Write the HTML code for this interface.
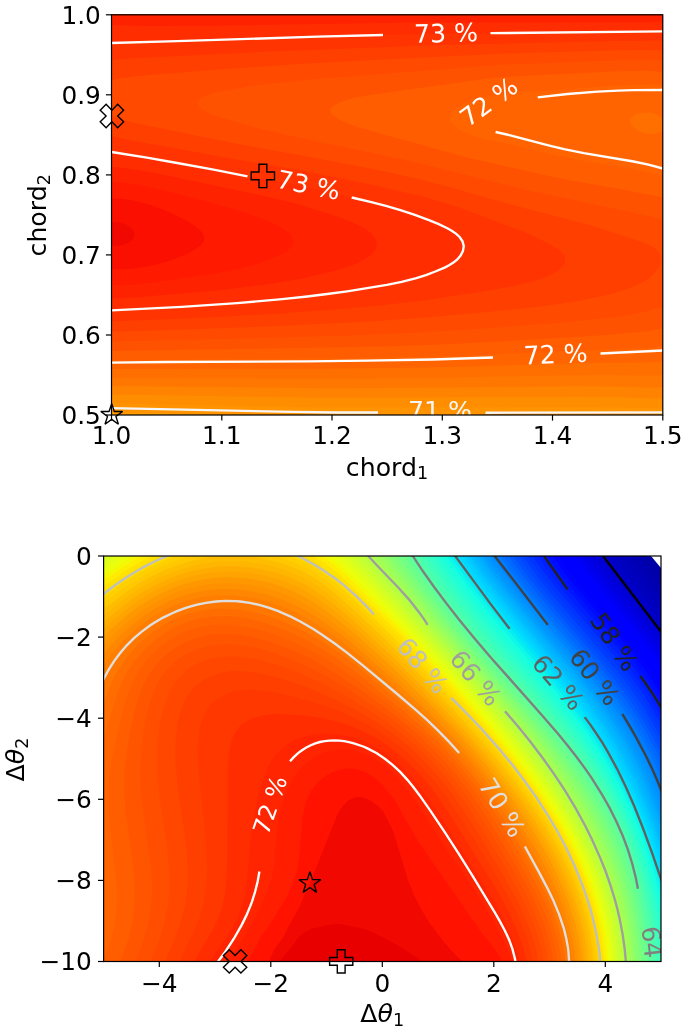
<!DOCTYPE html>
<html><head><meta charset="utf-8"><title>contours</title>
<style>html,body{margin:0;padding:0;background:#fff}svg{display:block}</style>
</head><body>
<svg width="685" height="1031" viewBox="0 0 685 1031" font-family="'DejaVu Sans', 'Liberation Sans', sans-serif" fill="#000">
<rect width="685" height="1031" fill="#fff"/>
<clipPath id="clip1"><rect x="111.5" y="14.8" width="551.3" height="400.2"/></clipPath>
<g clip-path="url(#clip1)">
<rect x="109.5" y="12.8" width="555.3" height="404.2" fill="#ff9f00"/>
<path fill="#ff9400" d="M109.5,12.8 664.8,12.8 664.8,415.7 620.4,417 332.8,417 272.8,416.1 156.2,413.3 109.5,412.9Z"/>
<path fill="#ff8d00" d="M109.5,12.8 664.8,12.8 664.8,407.9 599.5,407.2 324.2,407.4 109.5,403.4Z"/>
<path fill="#ff8200" d="M109.5,12.8 664.8,12.8 664.8,398.3 655.5,398.6 618.1,397.2 580.8,396.9 324.2,397.8 109.5,394.6Z"/>
<path fill="#ff7700" d="M109.5,12.8 664.8,12.8 664.8,387.2 650.8,387.7 613.5,386.5 576.1,386.2 454.8,387.6 333.5,388.3 109.5,386.1Z"/>
<path fill="#ff6f00" d="M109.5,12.8 664.8,12.8 664.8,374.9 650.8,375.7 608.8,375.1 571.5,375.2 454.8,377.4 352.2,378.5 109.5,377.6Z"/>
<path fill="#ff6400" d="M109.5,12.8 664.8,12.8 664.8,361.3 650.8,362.3 571.5,363.5 464.1,366.7 394.1,368 319.5,368.7 109.5,369ZM636.8,114 634.6,114.9 630.1,119 630,123 632.9,127.1 639.6,131.2 646.1,133.2 650.8,133.9 655.5,133.8 660.1,132.3 661.8,131.2 664.4,127.1 664.3,123 662.2,119 660.1,116.8 655.5,113.9 650.8,112.7 646.1,112.4 641.5,112.9Z"/>
<path fill="#ff5d00" d="M109.5,12.8 664.8,12.8 664.8,85.8 660.1,85 650.8,84.4 618.1,85.2 562.1,89.7 515.5,92.2 501.5,93.8 479.6,98.5 467,102.6 459.5,106.2 452.7,110.8 449.8,114.9 449.5,119 451.5,123 455.7,127.1 462,131.2 471.4,135.3 482.8,138.7 510.8,144.5 557.5,155.7 578.6,159.8 632.1,168.4 655.5,174 664.8,175.5 664.8,345.9 650.8,347.5 608.8,349.6 478.1,355 422.1,356.7 333.5,358.3 109.5,360.2Z"/>
<path fill="#ff5200" d="M109.5,12.8 664.8,12.8 664.8,72 646.1,70.8 618.1,71.3 515.5,76.2 491.7,78.1 373.6,94.5 356.8,97.3 351.2,98.5 339.2,102.6 331.9,106.7 329.8,110.8 332.4,114.9 338.4,119 346.5,123 357.2,127.1 464.1,156.7 548.4,176.1 571.5,180.6 622.8,189.4 664.8,197.9 664.8,327.9 646.1,331.4 603.2,335.3 506.1,341.2 440.8,344.4 389.5,346.2 330.5,347.6 109.5,351.1Z"/>
<path fill="#ff4a00" d="M109.5,12.8 664.8,12.8 664.8,60.6 650.8,59.9 627.5,60 506.1,64.5 314.8,79 258.8,85 216.8,92.3 208.1,94.5 202.8,97.2 200.6,98.5 198,102.6 199.1,106.7 202.8,110.1 212.1,114.9 253.1,127.1 307.7,139.4 408.1,160.5 534.1,191.7 635.3,212.9 653.1,216.9 664.8,220.2 664.8,305.3 655.5,308.8 641.5,312.5 627.5,315.2 608.8,317.8 556.3,323.1 478.1,328.9 412.8,332.8 342.8,335.7 254.2,338.3 109.5,341.5Z"/>
<path fill="#ff3f00" d="M109.5,12.8 664.8,12.8 664.8,50.3 650.8,49.9 627.5,50.1 504.6,53.6 314.8,63 221.5,69.2 137.5,76 120.6,78.1 114.2,79.8 109.5,81.5ZM109.5,114.9 119.3,119 135,123 235.2,143.5 300.8,155.3 380.2,170.6 412.8,177.7 445.5,185.9 520.1,207.1 589.5,225.1 640.3,241.4 650.2,245.5 656.5,249.6 659.5,253.7 660.6,257.8 660.4,261.9 659.2,265.9 657,270 653.6,274.1 649,278.2 641.5,283 634.4,286.3 627.5,289 609.2,294.5 591,298.6 567.8,302.7 538.3,306.8 500.7,310.8 431.5,317.1 366.2,321.7 254.2,327.1 123.5,331.5 109.5,331.6Z"/>
<path fill="#ff3400" d="M109.5,12.8 664.8,12.8 664.8,40.6 613.5,41 431.5,45.2 258.8,52 132.8,58.3 118.8,59.2 109.5,60.4ZM109.5,139.4 109.5,135.7 126.4,139.4 230.8,158.4 296.2,169.6 380.2,186.4 422.5,196.5 445.5,203.2 462.5,208.8 524.8,232.2 536.7,237.4 552.1,245.5 558.3,249.6 562.8,253.7 565.1,257.8 565.2,261.9 563.1,265.9 558.7,270 552,274.1 542.6,278.2 529.9,282.3 512.4,286.3 489.1,290.4 412.8,301.9 352.2,308 277.5,313.7 207.5,317.4 123.5,321.1 109.5,321.3Z"/>
<path fill="#ff2d00" d="M109.5,12.8 664.8,12.8 664.8,31.3 431.5,33.7 319.5,36.6 109.5,43.1ZM109.5,155.7 109.5,151.7 156.2,159.1 235.5,174.1 296.2,185.1 365.3,200.6 381.5,204.7 395.9,208.8 420.6,216.9 440.8,225.1 448.8,229.2 455.4,233.3 459.8,237.4 462.4,241.4 463.7,245.5 463.6,249.6 461.9,253.7 458.8,257.8 454.2,261.9 447.7,265.9 439.2,270 428.8,274.1 415.9,278.2 399.7,282.3 378.2,286.3 353,290.4 323.6,294.5 263.5,300.9 193.5,306.1 118.8,310.2 109.5,310.3Z"/>
<path fill="#ff2200" d="M109.5,12.8 664.8,12.8 664.8,22.3 515.5,22.6 431.5,22.3 212.2,25.7 146.8,25.9 109.5,25ZM109.5,167.9 109.5,166.5 118.8,167.5 137.5,170 156.2,173.3 266.7,196.5 300.6,204.7 338.4,216.9 349.5,221 358.6,225.1 365.7,229.2 371,233.3 374.6,237.4 376.5,241.4 376.8,245.5 375.3,249.6 372.1,253.7 367,257.8 359.7,261.9 349.8,265.9 337.1,270 321.7,274.1 303.4,278.2 281,282.3 263.5,284.9 217.7,290.4 146.8,296.6 123.5,298.2 109.5,298.3Z"/>
<path fill="#ff1a00" d="M650.4,12.8 664.8,12.9ZM109.5,184.3 109.5,181.7 114.2,181.9 128.2,183.2 146.8,186.4 172.5,192.4 233.1,208.8 246.3,212.9 267.9,221 276.7,225.1 283.9,229.2 289.1,233.3 292.2,237.4 293.2,241.4 292,245.5 288.6,249.6 286.8,250.9 282.8,253.7 274.4,257.8 263.6,261.9 250.2,265.9 233,270 210.4,274.1 155.5,282.3 128.2,284.9 118.8,285.2 109.5,284.9Z"/>
<path fill="#fa0f00" d="M109.5,200.6 109.5,198.5 114.2,198.4 123.5,199 132.8,200.5 149.3,204.7 161,208.8 170.9,212.9 187.2,221 193.6,225.1 198.9,229.2 202.6,233.3 204.4,237.4 203.7,241.4 200.5,245.5 194.9,249.6 187.2,253.7 177.5,257.8 165.4,261.9 149.7,265.9 132.8,268.8 118.8,269.6 109.5,268.9Z"/>
<path fill="#f10800" d="M109.5,225.1 109.5,222.8 114.2,222 118.8,222.3 123.5,223.6 127,225.1 132.1,229.2 134.2,233.3 133.8,237.4 130.5,241.4 123.5,244.8 118.8,245.7 114.2,245.5 109.5,244.3Z"/>
<path d="M111.5,43 176.9,41.2 317.6,36.7 383,35" fill="none" stroke="#fff" stroke-width="2.35"/>
<path d="M490.5,33.2 664,31.3" fill="none" stroke="#fff" stroke-width="2.35"/>
<path d="M663,90 632.8,90.2 617.8,90.6 597.7,91.6 567.7,94 537.7,97.4" fill="none" stroke="#fff" stroke-width="2.35"/>
<path d="M495.6,132 510.3,135.4 549.4,145.6 564.1,149.1 583.8,153.1 633.6,161.5 648.4,164.6 663,168.5" fill="none" stroke="#fff" stroke-width="2.35"/>
<path d="M111.5,152 146.9,157.7 177.1,163 212.3,169.4 247.5,176.3" fill="none" stroke="#fff" stroke-width="2.35"/>
<path d="M351.7,197.5 371.3,202.1 385.9,205.9 400.4,210.1 414.8,214.8 428.9,220.1 438.2,223.9 447.3,228.3 451.7,230.7 455.9,233.6 459.6,237 462.5,241.3 463.8,246.1 462.9,251 460.6,255.6 457.3,259.4 453.4,262.6 449.1,265.3 444.6,267.6 435.3,271.5 425.9,275.1 416.3,278.1 401.7,281.8 386.9,284.8 367,288.2 347.2,291.3 327.2,294 307.3,296.5 282.2,299.2 237.1,303.1 181.8,306.8 111.5,310.4" fill="none" stroke="#fff" stroke-width="2.35"/>
<path d="M111.5,362.6 166.7,362 307.3,361.3 367.5,360.7 432.8,359.5 493,357.5" fill="none" stroke="#fff" stroke-width="2.35"/>
<path d="M600.5,353.5 663,350.5" fill="none" stroke="#fff" stroke-width="2.35"/>
<path d="M111.5,408.2 292.5,411.9 337.8,412.5 378,412.5" fill="none" stroke="#f6f6f6" stroke-width="2.35"/>
<path d="M485.5,412.7 663,412.4" fill="none" stroke="#f6f6f6" stroke-width="2.35"/>
<text transform="translate(446,33.5) rotate(-1.5)" text-anchor="middle" dominant-baseline="central" fill="#fff" font-size="25.2">73 %</text>
<text transform="translate(489,102) rotate(-36)" text-anchor="middle" dominant-baseline="central" fill="#fff" font-size="25.2">72 %</text>
<text transform="translate(308.5,185.4) rotate(11.5)" text-anchor="middle" dominant-baseline="central" fill="#fff" font-size="25.2">73 %</text>
<text transform="translate(555.5,354.5) rotate(-2.5)" text-anchor="middle" dominant-baseline="central" fill="#fff" font-size="25.2">72 %</text>
<text transform="translate(440,410.6) rotate(0)" text-anchor="middle" dominant-baseline="central" fill="#f6f6f6" font-size="25.2">71 %</text>
</g>
<rect x="111.5" y="14.8" width="551.3" height="400.2" fill="none" stroke="#000" stroke-width="1.2"/>
<path d="M111.5,415 v5.6" stroke="#000" stroke-width="1.2"/>
<text x="111.5" y="444" text-anchor="middle" font-size="24.8">1.0</text>
<path d="M221.8,415 v5.6" stroke="#000" stroke-width="1.2"/>
<text x="221.8" y="444" text-anchor="middle" font-size="24.8">1.1</text>
<path d="M332,415 v5.6" stroke="#000" stroke-width="1.2"/>
<text x="332" y="444" text-anchor="middle" font-size="24.8">1.2</text>
<path d="M442.3,415 v5.6" stroke="#000" stroke-width="1.2"/>
<text x="442.3" y="444" text-anchor="middle" font-size="24.8">1.3</text>
<path d="M552.5,415 v5.6" stroke="#000" stroke-width="1.2"/>
<text x="552.5" y="444" text-anchor="middle" font-size="24.8">1.4</text>
<path d="M662.8,415 v5.6" stroke="#000" stroke-width="1.2"/>
<text x="662.8" y="444" text-anchor="middle" font-size="24.8">1.5</text>
<path d="M111.5,415 h-5.6" stroke="#000" stroke-width="1.2"/>
<text x="100.9" y="423.9" text-anchor="end" font-size="24.8">0.5</text>
<path d="M111.5,335 h-5.6" stroke="#000" stroke-width="1.2"/>
<text x="100.9" y="343.9" text-anchor="end" font-size="24.8">0.6</text>
<path d="M111.5,254.9 h-5.6" stroke="#000" stroke-width="1.2"/>
<text x="100.9" y="263.8" text-anchor="end" font-size="24.8">0.7</text>
<path d="M111.5,174.9 h-5.6" stroke="#000" stroke-width="1.2"/>
<text x="100.9" y="183.8" text-anchor="end" font-size="24.8">0.8</text>
<path d="M111.5,94.8 h-5.6" stroke="#000" stroke-width="1.2"/>
<text x="100.9" y="103.7" text-anchor="end" font-size="24.8">0.9</text>
<path d="M111.5,14.8 h-5.6" stroke="#000" stroke-width="1.2"/>
<text x="100.9" y="23.7" text-anchor="end" font-size="24.8">1.0</text>
<path d="M106.1,104.3 111.9,110.2 117.7,104.3 123.6,110.2 117.7,116 123.6,121.8 117.7,127.7 111.9,121.8 106.1,127.7 100.2,121.8 106.1,116 100.2,110.2Z" fill="none" stroke="#000" stroke-width="1.4" stroke-linejoin="miter"/>
<path d="M259,164.2 266.8,164.2 266.8,172 274.5,172 274.5,179.8 266.8,179.8 266.8,187.6 259,187.6 259,179.8 251.2,179.8 251.2,172 259,172Z" fill="none" stroke="#000" stroke-width="1.4" stroke-linejoin="miter"/>
<path d="M111.7,403.6 109.1,411.5 100.8,411.5 107.5,416.4 105,424.3 111.7,419.4 118.4,424.3 115.9,416.4 122.6,411.5 114.3,411.5Z" fill="none" stroke="#000" stroke-width="1.4" stroke-linejoin="bevel"/>
<text x="387" y="475.6" text-anchor="middle" font-size="25.2">chord<tspan font-size="17.6" dy="3.7">1</tspan></text><text transform="translate(46.4,215.3) rotate(-90)" text-anchor="middle" font-size="25.2">chord<tspan font-size="17.6" dy="3.7">2</tspan></text>
<clipPath id="clip2"><rect x="103.6" y="556" width="557.4" height="405.5"/></clipPath>
<g clip-path="url(#clip2)">
<rect x="101.6" y="554" width="561.4" height="409.5" fill="#00009b"/>
<path fill="#0000a4" d="M101.6,554 659.1,554 663,560.3 663,963.5 101.6,963.5Z"/>
<path fill="#0000a8" d="M101.6,554 649.5,554 655.1,561.5 663,576.8 663,963.5 101.6,963.5Z"/>
<path fill="#0000b2" d="M101.6,554 639,554 645.2,561.5 650.4,569 663,592.3 663,963.5 101.6,963.5Z"/>
<path fill="#0000bb" d="M101.6,554 628.8,554 638,565.3 643.4,572.8 663,604.7 663,963.5 101.6,963.5Z"/>
<path fill="#0000bf" d="M101.6,554 619.4,554 637,576.5 663,615 663,963.5 101.6,963.5Z"/>
<path fill="#0000c8" d="M101.6,554 611,554 630.7,579.4 663,624 663,963.5 101.6,963.5Z"/>
<path fill="#0000d1" d="M101.6,554 603.4,554 663,632.1 663,963.5 101.6,963.5Z"/>
<path fill="#0000da" d="M101.6,554 596.6,554 610.5,572.5 663,639.7 663,963.5 101.6,963.5Z"/>
<path fill="#0000e3" d="M101.6,554 590.3,554 606.5,575.8 650.9,631.2 663,647 663,963.5 101.6,963.5Z"/>
<path fill="#0000ed" d="M101.6,554 584.4,554 600.9,576.5 649.7,636.7 663,654.1 663,963.5 101.6,963.5Z"/>
<path fill="#0000f6" d="M101.6,554 578.6,554 595,576.5 646.8,639.7 663,661.2 663,963.5 101.6,963.5Z"/>
<path fill="#0000ff" d="M101.6,554 573,554 580.8,565.3 590.3,577.9 642.8,641.2 653.9,655.4 663,668.2 663,963.5 101.6,963.5Z"/>
<path fill="#0000ff" d="M101.6,554 567.5,554 578,569 589.6,584.1 643.1,647.9 654.5,662.9 663,675.3 663,963.5 101.6,963.5Z"/>
<path fill="#0000ff" d="M101.6,554 562.1,554 572.6,569 584.2,584.1 628.8,636.7 642.8,653.9 654.9,670.3 663,682.5 663,963.5 101.6,963.5Z"/>
<path fill="#0004ff" d="M101.6,554 556.9,554 567.3,569 578.8,584.1 626.7,640.2 639.1,655.4 653,674.2 663,689.9 663,963.5 101.6,963.5Z"/>
<path fill="#000cff" d="M101.6,554 551.6,554 562,569 573.5,584.1 586,599.1 622.6,641.4 638.8,661.3 653.4,681.7 663,697.4 663,963.5 101.6,963.5Z"/>
<path fill="#0014ff" d="M101.6,554 546.4,554 559.6,572.8 571.3,587.8 619.9,644.2 635.2,662.9 650.9,684.7 663,705 663,963.5 101.6,963.5Z"/>
<path fill="#0020ff" d="M101.6,554 541.3,554 554.4,572.8 566.1,587.8 618.1,647.9 634.7,668.6 649.4,689.2 663,712.6 663,963.5 101.6,963.5Z"/>
<path fill="#0028ff" d="M101.6,554 536.1,554 549.4,572.8 561,587.8 576.8,606.6 614.5,649.7 631.3,670.5 647.3,693 663,720 663,963.5 101.6,963.5Z"/>
<path fill="#0034ff" d="M101.6,554 530.9,554 545.9,574.8 558,590.3 611.2,651.7 629.4,674.2 645.3,696.8 663,727.3 663,963.5 101.6,963.5Z"/>
<path fill="#003cff" d="M101.6,554 525.9,554 542.2,576.5 554,591.6 609.4,655.4 627.5,678 638.4,693 645.7,704.3 663,734.6 663,963.5 101.6,963.5Z"/>
<path fill="#0048ff" d="M101.6,554 521,554 537.4,576.5 549.9,592.5 604.4,655.4 625.7,681.7 634.7,694.2 643.8,708 654.9,726.8 663,742 663,963.5 101.6,963.5Z"/>
<path fill="#0050ff" d="M101.6,554 516.2,554 529.8,572.8 545.9,593.4 602.8,659.2 623.9,685.5 634.6,700.5 644.3,715.5 654.9,733.9 663,749.6 663,963.5 101.6,963.5Z"/>
<path fill="#005cff" d="M101.6,554 511.6,554 525.2,572.8 541.8,594.1 601.2,662.9 622.6,689.9 634.7,707.1 644.8,723.1 654.9,741 663,757.4 663,963.5 101.6,963.5Z"/>
<path fill="#0068ff" d="M101.6,554 507.1,554 520.7,572.8 537.8,594.6 596.5,662.9 620.5,693 633.6,711.8 645.3,730.6 654.9,748.2 663,765.4 663,963.5 101.6,963.5Z"/>
<path fill="#0070ff" d="M101.6,554 502.8,554 513.6,569.2 530.9,591.6 545.9,609.6 595.1,666.7 607.4,681.7 621.6,700.5 634.4,719.3 645.7,738.1 655.5,756.9 663,774 663,963.5 101.6,963.5Z"/>
<path fill="#007cff" d="M101.6,554 498.6,554 509.5,569.4 526.7,591.6 542.2,610.4 587.6,662.9 603,681.7 617.4,700.5 630.4,719.3 641.9,738.1 650.9,754.8 659,772.5 663,783 663,963.5 101.6,963.5Z"/>
<path fill="#0084ff" d="M101.6,554 494.5,554 507.9,572.8 525.6,595.3 583.3,662.9 598.8,681.7 613.2,700.5 626.3,719.3 638,738.1 648.2,756.9 656.8,775.7 663,792.4 663,963.5 101.6,963.5Z"/>
<path fill="#0090ff" d="M101.6,554 490.6,554 504,572.8 521.6,595.3 579.2,662.9 594.6,681.7 609.1,700.5 622.3,719.3 634.2,738.1 644.6,756.9 653.3,775.7 663,801.8 663,963.5 101.6,963.5Z"/>
<path fill="#0098ff" d="M101.6,554 486.8,554 500.1,572.8 517.8,595.3 578.3,666.7 593.6,685.5 607.8,704.3 620.9,723.1 632.6,741.8 640.9,756.9 649.8,775.7 657.2,794.4 663,811 663,963.5 101.6,963.5Z"/>
<path fill="#00a0ff" d="M101.6,554 483.1,554 496.3,572.8 514,595.3 574.4,666.7 589.6,685.5 603.9,704.3 617,723.1 628.8,741.8 637.2,756.9 646.3,775.7 653.9,794.4 663,819.9 663,963.5 101.6,963.5Z"/>
<path fill="#00acff" d="M101.6,554 479.5,554 489.8,569 507.3,591.6 573.6,670.5 600,704.3 613.2,723.1 625,741.8 635.5,760.6 644.5,779.4 653.6,802 663,828.4 663,963.5 101.6,963.5Z"/>
<path fill="#00b4ff" d="M101.6,554 475.8,554 488.9,572.8 503.5,591.6 569.8,670.5 596.2,704.3 609.4,723.1 621.3,741.8 631.9,760.6 641.1,779.4 652,805.7 663,836.7 663,963.5 101.6,963.5Z"/>
<path fill="#00bcff" d="M101.6,554 472.1,554 485.2,572.8 499.8,591.6 566,670.5 592.4,704.3 605.6,723.1 617.6,741.8 628.3,760.6 637.8,779.4 649,805.7 656,824.5 663,844.9 663,963.5 101.6,963.5Z"/>
<path fill="#00c8ff" d="M101.6,554 468.3,554 481.5,572.8 496,591.6 559.1,666.7 574.3,685.5 588.7,704.3 601.9,723.1 614,741.8 624.8,760.6 634.5,779.4 642.8,798 649,813.2 656,832 663,853 663,963.5 101.6,963.5Z"/>
<path fill="#00d0ff" d="M101.6,554 464.6,554 480.5,576.5 495.2,595.3 555.3,666.7 570.6,685.5 585,704.3 598.3,723.1 610.4,741.8 621.4,760.6 631.2,779.4 641.6,802 649.1,820.7 657.3,843.3 663,861.5 663,963.5 101.6,963.5Z"/>
<path fill="#00d8ff" d="M101.6,554 460.7,554 476.7,576.5 493.4,597.8 554,669.7 569.7,689.2 582.2,705.6 594.7,723.1 606.9,741.8 618.1,760.6 629.9,783.2 640.3,805.7 649.4,828.3 657.3,850.8 663,870.2 663,963.5 101.6,963.5Z"/>
<path fill="#00e4f8" d="M101.6,554 456.9,554 475.6,580.3 490.4,599.1 549.9,669.5 565.9,689.2 580.3,708 593.6,726.8 603.5,741.8 614.8,760.6 626.9,783.2 637.5,805.7 648.2,832 656,854.6 663,879.3 663,963.5 101.6,963.5Z"/>
<path fill="#06ecf1" d="M101.6,554 452.9,554 471.6,580.3 489.3,602.8 546.6,670.5 562,689.2 578.2,710.2 592.6,730.6 602.4,745.6 611.6,760.6 624,783.2 634.8,805.7 645.7,832 654.7,858.3 663,888.7 663,963.5 101.6,963.5Z"/>
<path fill="#0ff8e7" d="M101.6,554 448.9,554 470.3,584.1 488.1,606.6 545.9,674.6 562,694.3 575.6,711.8 589.1,730.6 599.1,745.6 610.5,764.2 621.1,783.2 633.9,809.5 644.7,835.8 653.5,862.1 663,897.2 663,963.5 101.6,963.5Z"/>
<path fill="#16ffe1" d="M101.6,554 444.8,554 466.1,584.1 483.7,606.6 502.4,629.1 545.9,679.7 558,694.3 574.1,714.9 586.3,731.5 598.4,749.6 607.5,764.4 618.6,783.9 631.3,809.5 639.3,828.3 643.6,839.5 652.3,865.8 663,905.9 663,963.5 101.6,963.5Z"/>
<path fill="#1fffd7" d="M101.6,554 440.7,554 461.9,584.1 482.3,610.4 501,632.9 549.9,689.6 574.1,719.8 586.3,736.5 598.4,754.6 606.8,768.1 617.4,786.9 630.7,813.7 636.9,828.3 642.7,843.3 650,865.8 660.9,907.1 663,915.6 663,963.5 101.6,963.5Z"/>
<path fill="#26ffd1" d="M101.6,554 436.7,554 457.6,584.1 481.3,614.7 501.4,638.9 549.9,694.6 572.9,723.1 583.9,738.1 594.3,753.3 603.8,768.1 614.5,786.7 626.2,809.5 634.7,828.8 643,850.8 649.8,873.3 663,926.6 663,963.5 101.6,963.5Z"/>
<path fill="#30ffc7" d="M101.6,554 432.6,554 456.1,587.8 481.3,620.3 501.3,644.2 549.9,699.5 570.1,724.3 582.2,740.5 593.5,756.9 602.4,770.8 611.9,786.9 622.6,807.3 630.7,824.9 638.8,845.4 645.5,865.8 657,910.9 663,939.7 663,963.5 101.6,963.5Z"/>
<path fill="#36ffc1" d="M101.6,554 428.6,554 451.9,587.8 477.2,620.8 496.7,644.2 549.9,704.3 570.1,729 590.3,756.9 600.1,771.9 610.5,789.3 619.2,805.7 628.1,824.5 635.7,843.3 643.2,865.8 650.1,892.1 657.8,925.9 663,954.9 663,963.5 101.6,963.5Z"/>
<path fill="#40ffb7" d="M101.6,554 424.7,554 448.9,589.4 461.8,606.6 476.6,625.4 493.4,645.4 549.1,708 570.1,733.7 590.3,761.5 606.5,787.2 614.7,802 625.6,824.5 633.3,843.3 639.7,862.1 646.8,888 653,914.7 656.7,933.4 661.8,963.5 101.6,963.5Z"/>
<path fill="#46ffb1" d="M101.6,554 420.7,554 444.9,589.4 457.7,606.6 473.2,626.3 491.4,647.9 545.9,708.8 567,734.3 586.5,760.6 598.4,778.6 606.5,792 614.5,806.8 623.1,824.5 630.9,843.3 638.6,865.8 645.6,892.1 650.6,914.7 654.2,933.4 659,963.5 101.6,963.5Z"/>
<path fill="#50ffa7" d="M101.6,554 416.8,554 429.3,572.8 442.6,591.6 456.7,610.4 471.6,629.1 489.3,650.1 544.7,711.8 566.4,738.1 586.3,764.9 595.9,779.4 606.5,796.9 618.6,820.1 622.6,829.1 629.9,847 637.3,869.6 643.3,892.1 649,918.4 652.3,937.2 656.3,963.5 101.6,963.5Z"/>
<path fill="#56ffa0" d="M101.6,554 412.9,554 425.5,572.8 440.9,594.4 453,610.4 469.1,630.7 486.9,651.7 541.8,712.8 563,738.1 582.7,764.4 594.3,781.7 602.4,795 610.4,809.5 618.6,825.8 627.4,847 634.7,868.8 640.9,892.1 646.6,918.4 649.8,937.2 653.6,963.5 101.6,963.5Z"/>
<path fill="#60ff97" d="M101.6,554 409,554 424.4,576.5 437.9,595.3 452.3,614.1 467.4,632.9 485.3,653.8 540.7,715.5 562.5,741.8 582.2,768.4 592.2,783.2 602.4,800 613.4,820.7 618.6,832 624.8,847 632.5,869.6 638.6,892.1 643.4,914.7 647.3,937.2 650.9,963.5 101.6,963.5Z"/>
<path fill="#6aff8d" d="M101.6,554 405,554 434.4,595.3 448.8,614.1 464.1,632.9 481.3,653 537.2,715.5 559,741.8 578.8,768.1 589,783.2 598.4,798.4 606.5,812.9 614.5,829.1 622.6,848.3 630.7,872.1 637,895.9 641.7,918.4 644.9,937.2 648.3,963.5 101.6,963.5Z"/>
<path fill="#70ff87" d="M101.6,554 401,554 430.9,595.3 460.8,632.9 480.1,655.4 533.8,715.5 555.6,741.8 578.1,771.9 586.3,784 595.1,798.2 602.4,811 612.9,832 620.8,850.8 627.3,869.6 633.6,892.1 638.5,914.7 642.4,937.2 645.7,963.5 101.6,963.5Z"/>
<path fill="#7aff7d" d="M101.6,554 397,554 424.6,591.6 448.3,621.6 477,655.4 530.4,715.5 552.3,741.8 574.8,771.9 584.9,786.9 594.1,802 606.3,824.5 613.3,839.5 619.3,854.6 626.7,876.3 632,895.9 636.8,918.4 639.9,937.2 643.1,963.5 101.6,963.5Z"/>
<path fill="#83ff73" d="M101.6,554 392.9,554 424,595.3 448.2,625.4 473.9,655.4 520.7,708 545.9,738.1 568.8,768.1 579.1,783.2 588.6,798.2 598.4,815.3 606.9,832 615,850.8 623,873.3 629.4,895.9 634.4,918.4 637.5,937.2 640.6,963.5 101.6,963.5Z"/>
<path fill="#8aff6d" d="M101.6,554 388.7,554 420.5,595.3 445,625.4 467.6,651.7 517.5,708 539.6,734.3 554.4,753.1 565.4,768.1 575.7,783.2 585.3,798.2 596,817 605.5,835.8 613.5,854.6 621.5,877.1 626.9,895.9 631.9,918.4 635.1,937.2 638.1,963.5 101.6,963.5Z"/>
<path fill="#94ff63" d="M101.6,554 384.5,554 414,591.6 438.6,621.6 461.2,647.9 511.1,704.3 536.4,734.3 551.1,753.1 562.1,768.1 572.4,783.2 582,798.2 592.8,817 602.3,835.8 610.6,854.6 618.7,877.1 625.2,899.6 630.2,922.2 632.6,937.2 635.5,963.5 101.6,963.5Z"/>
<path fill="#9dff5a" d="M101.6,554 380.2,554 432.1,617.9 458.1,647.9 504.7,700.5 530.1,730.6 542,745.6 556.1,764.4 576.3,794.4 587.5,813.2 597.4,832 607.6,854.6 616,877.1 622.7,899.6 627.7,922.2 630.7,941 633.1,963.5 101.6,963.5Z"/>
<path fill="#a4ff53" d="M101.6,554 375.8,554 428.7,617.9 501.4,700.3 520.7,723.1 535.9,741.8 550.1,760.6 563.3,779.4 573,794.4 584.2,813.2 596.1,835.8 604.6,854.6 613.2,877.1 620.1,899.6 625.3,922.2 628.3,941 630.6,963.5 101.6,963.5Z"/>
<path fill="#adff49" d="M101.6,554 371.2,554 425.3,617.9 482,681.7 514.4,719.3 529.7,738.1 544,756.9 554.8,771.9 567.4,790.7 578.9,809.5 591.2,832 601.7,854.6 610.5,877.1 617.5,899.6 622.8,922.2 625.9,941 628.1,963.5 101.6,963.5Z"/>
<path fill="#b7ff40" d="M101.6,554 366.6,554 421.7,617.9 481.3,684.5 513.6,722.2 529.4,741.8 541.8,758.3 551.6,771.9 564.2,790.7 575.8,809.5 588.1,832 598.8,854.6 607.7,877.1 614.9,899.6 620.4,922.2 623.5,941 625.7,963.5 101.6,963.5Z"/>
<path fill="#c1ff36" d="M101.6,554 361.7,554 497.4,706.9 513.6,726.2 531.8,749.4 548.3,771.9 562,792.2 574.9,813.2 587.1,835.8 597.6,858.3 606.4,880.8 613.4,903.4 617.9,922.2 621.1,941 623.3,963.5 101.6,963.5Z"/>
<path fill="#c7ff30" d="M101.6,554 356.6,554 368.2,566.1 417.6,621.6 461.1,669.5 493.4,706.2 510.6,726.8 529.7,751 545.9,773 560.3,794.4 571.8,813.2 584.2,835.8 594.8,858.3 603.8,880.8 610.9,903.4 615.5,922.2 618.7,941 620.9,963.5 101.6,963.5Z"/>
<path fill="#d1ff26" d="M101.7,554 351.2,554 368.2,571.3 458.3,670.5 491.4,708 509.5,729.7 525.7,750.1 541.8,771.9 557.2,794.4 571,817 583.2,839.5 592.1,858.3 601.2,880.8 608.4,903.4 613,922.2 616.3,941 618.5,963.5 101.6,963.5Z"/>
<path fill="#dbff1c" d="M105,557.8 110.7,554 345.6,554 356,563.8 364.1,572.2 440.9,655.3 481.3,700.4 503.6,726.8 521.6,749.3 538.5,771.9 554,794.3 568,817 580.4,839.5 591.1,862.1 598.6,880.8 605.9,903.4 610.6,922.2 613.9,941 616.2,963.5 101.6,963.5 101.6,559.8Z"/>
<path fill="#e4ff13" d="M113.4,557.8 118.9,554 339.9,554.2 352,565 364.1,577.4 436.8,655.2 473.2,695.4 497.4,723.7 517.6,748.6 533.8,769.9 549.9,792.9 565.1,817 577.6,839.5 588.4,862.1 596,880.8 603.4,903.4 608.2,922.2 611.5,941 613.8,963.5 101.6,963.5 101.6,565.3Z"/>
<path fill="#ebff0c" d="M121.4,557.8 127.2,554 333.3,554 339.9,559.3 356,574.3 392.4,612.2 436.8,659.5 469.1,695.1 493.4,723.3 513.6,748 533.8,774.5 547.7,794.4 562.1,817 574.8,839.5 585.7,862.1 593.4,880.8 600.9,903.4 605.7,922.2 609.1,941 611.4,963.5 101.6,963.5 101.6,570.7Z"/>
<path fill="#f4f802" d="M129.6,557.8 135.8,554 326.4,554 339.9,564.4 356,579.6 400.5,625.4 436.8,663.9 465.1,695 489.3,723 513.6,752.5 529.7,773.6 545.9,796.4 561.4,820.7 571.9,839.5 582.2,860.4 590.7,880.8 598.3,903.4 603.2,922.2 606.6,941 609,963.5 101.6,963.5 101.6,576.2Z"/>
<path fill="#feed00" d="M138.2,557.8 145,554 318.8,554 327.8,560 339.9,569.7 356,584.9 404.5,634.3 436.8,668.4 465.1,699.5 493.4,732.3 513.4,756.9 529.7,778.2 545.9,801.2 558.3,820.7 571,843.3 581.9,865.8 589.5,884.6 595.8,903.4 600.7,922.2 604.2,941 606.6,963.5 101.6,963.5 101.6,581.7 121.8,567.9Z"/>
<path fill="#ffe200" d="M147.6,557.8 155.2,554 310,554 323.7,562.3 339.9,575.1 360.1,594.2 400.5,634.8 432.8,668.6 461.1,699.5 481.7,723.1 509.5,756.6 525.7,777.4 541.8,800 558,825.3 570.1,847 579.1,865.8 586.3,883.1 593.1,903.4 598.1,922.2 601.6,941 604.1,963.5 101.6,963.5 101.6,587.4 125.8,570.5Z"/>
<path fill="#ffdb00" d="M158,557.8 166.8,554 299.3,554 311.6,559.9 319.7,564.8 331.8,573.7 343.9,584.2 376.2,615.4 408.6,647.9 432.8,673.2 461.1,704.1 489.3,736.6 509.1,760.6 525.7,782.1 541.8,804.9 556.6,828.3 567.1,847 578,869.6 585.5,888.4 591.6,907.1 596.3,925.9 599.6,944.7 601.6,963.5 101.6,963.5 101.6,593.2 118.9,580.3 129.9,573 146,563.7Z"/>
<path fill="#ffd000" d="M170.1,557.8 180.6,554 285.7,554 303.5,561 311.6,565.2 319.7,570.2 335.9,582.6 356,601 384.3,628.4 408.6,652.7 436.8,682.2 461.1,708.7 489.3,741.1 508.4,764.4 525.7,786.9 541.5,809.5 554,829.1 566,850.8 575,869.6 582.6,888.4 589.9,910.9 593.6,925.9 597,944.7 599,963.5 101.6,963.5 101.6,599 121.8,583.6 133.9,575.8 150.1,566.7Z"/>
<path fill="#ffc800" d="M184.7,557.8 199.4,554 266.2,554 279.3,557.2 292.1,561.5 303.5,566.4 311.6,570.7 319.7,575.9 327.8,581.8 339.9,591.8 352,602.7 388.4,637.4 416.6,665.9 440.9,691.3 461.1,713.3 485.3,740.9 504.7,764.4 519.3,783.2 533.8,803.2 545.9,821.5 554.5,835.8 566.1,857.1 574.1,874.5 582.2,895.3 588.1,914.7 591.7,929.7 594.4,944.7 596.4,963.5 101.6,963.5 101.6,604.9 125.8,586.3 142,576.2 162.2,566.1 174.3,561.2Z"/>
<path fill="#ffbd00" d="M206.4,557.8 218.7,556.2 230.8,555.7 243,556.1 259.1,557.9 275.3,561.4 287.4,565.2 299.5,570 311.6,576.4 319.7,581.6 331.8,590.8 356,612 392.4,646.5 432.8,687.5 469.1,726.9 485.4,745.6 501.4,765 517.6,785.8 529.3,802 537.8,814.4 549.9,833.7 561.5,854.6 568.8,869.6 574.1,882 580.7,899.6 586.3,918.3 589.7,933.4 592.2,948.5 593.7,963.5 101.6,963.5 101.6,610.9 129.9,589.2 142,581.5 154.1,575 166.2,569.4 178.3,564.9 190.5,561.2Z"/>
<path fill="#ffb600" d="M217.6,561.5 230.8,560.9 243,561.3 259.1,563.3 271.2,565.8 283.3,569.3 295.5,573.9 307.6,579.9 315.7,584.8 327.8,593.5 339.9,603.3 372.2,632.3 412.6,671.6 453,713.6 484.7,749.4 511.8,783.2 533.8,813.9 545.3,832 554,846.9 562,862.3 568.9,877.1 574.1,890 578.9,903.4 583.3,918.4 586.8,933.4 589.4,948.5 590.9,963.5 101.6,963.5 101.6,617.1 121.8,600.9 133.9,592.1 146,584.6 158.1,578.2 170.7,572.8 186.4,567.4 202.6,563.6Z"/>
<path fill="#ffab00" d="M201.2,569 214.7,567 226.8,566.3 238.9,566.4 255.1,568.1 267.2,570.4 279.3,573.7 291.4,578.1 303.5,583.7 311.6,588.3 323.7,596.5 335.9,605.9 352,619.6 388.4,653 428.7,692.9 465.1,731.5 481.3,749.9 496.3,768.1 509.5,785.2 521.8,802 533.8,819.6 545.9,839.1 554,853.5 562,869.5 568.7,884.6 574.4,899.6 579.2,914.7 583.9,933.4 586.6,948.5 588.1,963.5 101.6,963.5 101.6,623.7 117.5,610.4 129.9,600.7 137.9,595.1 150.1,587.8 162.2,581.7 174.3,576.6 186.4,572.6Z"/>
<path fill="#ffa300" d="M210.9,572.8 226.8,571.7 238.9,571.9 251,573.1 263.2,575.3 275.3,578.4 287.4,582.5 299.5,587.8 311.6,594.6 323.7,602.7 335.9,611.9 364.1,635.9 404.5,673.8 444.9,714.4 473.5,745.6 489.3,764.4 501.4,779.7 513.6,795.9 525.7,813.2 537.8,832 546.6,847 554,860.6 562,877.2 568.3,892.1 573.7,907.1 578.1,922.2 581.6,937.2 584.1,952.2 585.2,963.5 101.6,963.5 101.6,630.6 116.1,617.9 130.1,606.6 142,598.3 154.1,591.1 169,584.1 182.4,579.1 198.5,574.8Z"/>
<path fill="#ff9800" d="M198.2,580.3 210.6,578.3 222.8,577.3 234.9,577.4 251,578.9 267.2,582.1 279.3,585.7 291.4,590.4 303.5,596.3 315.7,603.5 327.8,611.9 339.9,621.2 356,634.6 388.4,663.7 428.7,702.7 461.1,736.3 475.9,753.1 489.3,769.3 501.4,784.9 513.9,802 526.6,820.7 538.3,839.5 548.9,858.3 556.5,873.3 563.2,888.4 569,903.4 574.1,919.5 578.2,935.7 581.1,952.2 582.3,963.5 101.6,963.5 101.6,638.1 115.2,625.4 128.6,614.1 138.6,606.6 150.1,599.2 162.2,592.7 174.3,587.4 186.4,583.3Z"/>
<path fill="#ff9100" d="M209.2,584.1 222.8,583 234.9,583.2 247,584.3 263.2,587.3 275.3,590.7 287.4,595.1 299.5,600.7 311.6,607.5 323.7,615.4 335.9,624.2 364.1,647.4 408.6,688.2 444.9,723.9 461.1,741 473.2,754.8 497.4,784.9 509.8,802 521.6,819.4 531.9,835.8 541.8,852.7 549.9,867.9 556.2,880.8 562,894.5 566.8,907.1 571.5,922.2 575.2,937.2 578,952.2 579.2,963.5 101.6,963.5 101.6,646.5 114.9,632.9 127.6,621.6 142,610.5 154.1,602.8 168.8,595.3 182.4,590.1 194.5,586.7Z"/>
<path fill="#ff8600" d="M198.4,591.6 210.6,589.7 222.8,588.9 234.9,589.2 251,591.1 267.2,594.8 279.3,598.6 291.4,603.6 303.5,609.5 315.7,616.6 327.8,624.7 339.9,633.6 356,646.5 388.4,674.9 432.8,716.6 461.1,745.9 477.1,764.4 489,779.4 501.4,796.1 513.3,813.2 533.8,846 541.8,860.3 550.4,877.1 558,894 563.1,907.1 568,922.2 571.9,937.2 574.8,952.2 576,963.5 101.6,963.5 101.6,656.1 111.8,644.2 123,632.9 133.9,623.4 146.2,614.1 158.1,606.7 170.3,600.6 184.1,595.3Z"/>
<path fill="#ff7e00" d="M216.1,595.3 230.8,595.3 243,596.4 255.1,598.5 267.2,601.5 279.3,605.5 291.4,610.5 303.5,616.5 315.7,623.4 327.8,631.3 339.9,640 352,649.4 368.2,662.8 416.6,706.2 444.9,733.6 457,746.4 469.5,760.6 481.3,775 493.2,790.7 513.9,820.7 525.6,839.5 536.4,858.3 549.9,884.8 557.8,903.4 561.9,914.7 566.1,928.1 569.2,941 571.4,952.2 572.7,963.5 101.6,963.5 101.6,667.9 110.4,655.4 123.7,640.4 137.9,627.5 146,621.2 154.1,615.8 170.3,606.9 186.4,600.7 202.6,596.9Z"/>
<path fill="#ff7700" d="M205.4,602.8 218.7,601.7 230.8,601.9 243,603.1 255.1,605.4 267.2,608.6 279.3,612.7 295.5,619.5 307.6,625.7 319.7,632.8 331.8,640.8 356,659 400.5,697 420.7,715.2 436.8,730.6 461.1,756.1 473.2,770.4 486,786.9 497.4,802.9 509.3,820.7 529.8,854.6 545.5,884.6 552.2,899.6 556.7,910.9 561.7,925.9 564.7,937.2 567.8,952.2 569.2,963.5 101.6,963.5 101.6,683.8 111.1,666.7 119.1,655.4 125.4,647.9 132.7,640.4 146,628.8 154.1,623 162.2,618 174.3,611.8 190.5,605.9Z"/>
<path fill="#ff6c00" d="M201.8,610.4 214.7,608.8 226.8,608.7 238.9,609.7 251,611.8 263.2,614.8 279.3,620.1 292,625.4 307.3,632.9 319.7,640 331.8,647.8 356,665.6 400.5,702.6 416.6,716.8 432.8,731.9 444.9,744 457,757 469.7,771.9 481.3,786.9 502.2,817 514,835.8 525.7,855.6 541.8,886.1 549.6,903.4 553.9,914.7 558,926.8 561.8,941 564.1,952.2 565.6,963.5 101.6,963.5 101.6,709.1 108.8,689.2 113.9,678 118,670.5 122.8,662.9 128.5,655.4 138.7,644.2 147,636.7 154.1,631.2 162.2,625.7 169.4,621.6 178.3,617.4 186.4,614.3Z"/>
<path fill="#ff6400" d="M202.4,617.9 214.7,616.4 226.8,616.3 238.9,617.3 251,619.5 263.2,622.5 279.3,627.9 291.5,632.9 307.6,640.7 319.7,647.5 331.8,655.1 343.9,663.5 360.1,675.5 404.5,711.7 432.8,737.3 444.9,749.5 455.1,760.6 465.1,772.4 477.2,788 497.4,817.1 509.5,836.5 521.6,857.1 537.8,887.3 545.1,903.4 549.7,914.7 554,927.1 557.8,941 560.2,952.2 561.7,963.5 101.6,963.5 101.6,746.3 112.6,708 118.9,689.2 125.9,674.2 130.4,666.7 135.8,659.2 145.9,647.9 158.1,637.4 171.1,629.1 178.3,625.5 186.4,622.2 194.5,619.7Z"/>
<path fill="#ff5d00" d="M208.3,625.4 218.7,624.5 230.8,624.8 243,626.2 255.1,628.7 267.2,632 280.6,636.7 295.5,642.8 307.6,648.7 319.7,655.3 331.8,662.7 348,673.7 364.1,685.5 388.4,704.2 404.5,717.4 419.6,730.6 431.6,741.8 442.8,753.1 453.1,764.4 465.1,778.9 474.1,790.7 493.4,818.9 517.6,858.9 533.8,888.9 540.5,903.4 545.9,916.6 549.9,928.1 553.6,941 556,952.2 557.5,963.5 101.6,963.5 101.6,961.1 106.5,952.2 109.5,944.7 111.8,937.2 114.4,925.9 116.5,910.9 117,899.6 116.6,884.6 109.6,820.7 108.6,802 108.7,786.9 109.8,771.9 112.2,756.9 121.7,715.5 125.8,700.1 131.2,685.5 134.7,678 139,670.5 147.3,659.2 158.1,648.3 170.3,639.3 182.4,632.8 194.5,628.3Z"/>
<path fill="#ff5500" d="M199.8,636.7 210.6,634.5 218.7,633.8 230.8,633.9 243,635.3 255.1,637.7 271.2,642.2 286.9,647.9 299.5,653.4 311.6,659.3 327.8,668.4 356,686.7 376.2,701.3 392.4,713.6 408.6,726.7 421.4,738.1 433.2,749.4 444.9,761.6 457,775.7 465.1,786 474,798.2 485.3,814.8 509.5,854.2 528.4,888.4 533.9,899.6 540.4,914.7 545.8,929.7 549.1,941 551.7,952.2 553.2,963.5 118.9,963.5 124.1,952.2 129.1,937.2 132.4,922.2 134.5,903.4 134.8,892.1 134.1,877.1 132.5,862.1 125.8,813.2 124.6,798.2 124.2,783.2 124.9,768.1 126.6,753.1 129.9,733.4 134.4,711.8 138.6,696.8 143,685.5 149,674.2 157.4,662.9 164.9,655.4 174.6,647.9 186.4,641.4Z"/>
<path fill="#ff4e00" d="M224.6,644.2 234.9,644.5 243,645.4 255.1,647.6 267.2,650.8 279.3,654.7 291.4,659.3 315.7,670.5 327.8,677 343.9,686.6 376.2,708 392.4,719.8 404.5,729.5 416.6,739.9 428.7,751.3 440.9,763.9 448.9,773.1 457.1,783.2 468.2,798.2 489.3,830.3 513.6,871 526.8,895.9 533.7,910.9 537.8,920.9 542.2,933.4 545.4,944.7 547.6,956 548.5,963.5 134.8,963.5 141.1,948.5 146.8,929.7 150.5,910.9 151.9,895.9 152,880.8 150.9,865.8 142.3,805.7 140.9,790.7 140.2,775.7 140.8,756.9 142.7,738.1 145.7,719.3 149.3,704.3 154.7,689.2 160.9,678 166.2,670.8 169.9,666.7 178.3,659.2 186.4,654 198.5,648.5 210.6,645.4Z"/>
<path fill="#ff4700" d="M208.6,659.2 218.7,657.1 226.8,656.4 238.9,656.7 251,658.3 263.2,660.9 275.3,664.2 287.4,668.3 302.3,674.2 315.7,680.2 331.8,688.3 348,697.3 364.1,707 380.3,717.6 392.4,726.4 404.5,735.9 416.6,746.4 427.5,756.9 438.2,768.1 447.8,779.4 457,791.3 465.1,802.7 477.2,821 505.5,867.4 521.6,896.9 528.2,910.9 532.9,922.2 537,933.4 540.3,944.7 542,952.2 543.6,963.5 149.7,963.5 158.7,941 164.5,922.2 168.2,903.4 169.5,888.4 169.5,873.3 168.3,858.3 159.6,798.2 157.4,775.7 156.9,760.6 157.4,745.6 158.7,730.6 160.5,719.3 163.2,708 167.1,696.8 173.1,685.5 178.3,678.4 186.4,670.5 191.8,666.7 198.5,662.9Z"/>
<path fill="#ff3f00" d="M215.6,674.2 222.8,672.4 230.8,671.3 238.9,671.1 251,672 263.2,674 275.3,676.9 291.2,681.7 303.5,686.1 319.7,692.6 335.9,699.9 352,708 364.1,714.7 376.2,722.1 388.4,730.3 400.5,739.5 412.6,749.8 423.9,760.6 432.8,770 440.9,779.4 452.5,794.4 461.1,806.8 473.2,825.4 501.4,871.7 517.6,901.1 527.1,922.2 531.4,933.4 534.9,944.7 537.4,956 538.3,963.5 164.1,963.5 175.3,937.2 181.9,918.4 185.5,903.4 186.7,895.9 187.7,884.6 187.8,869.6 186.5,850.8 184.3,832 177.8,786.9 175.6,764.4 175.3,753.1 175.5,741.8 177.6,723.1 179.3,715.5 182.4,706.2 186.4,697.8 190.5,691.8 194.5,687.1 200.7,681.7 206.6,678Z"/>
<path fill="#ff3800" d="M228.6,693 234.9,691.3 243,690.1 251,689.8 263.2,690.7 275.3,692.5 291.4,696.1 319.7,704.3 335.9,710.1 348,715.1 368.2,725 376.2,729.8 388.4,737.8 398.7,745.6 408.6,753.9 416.6,761.5 426.6,771.9 436.2,783.2 444.9,794.5 461.1,818.4 497.4,877.1 510.1,899.6 517.5,914.7 521.6,924.3 525.7,934.7 529.7,947.4 531.6,956 532.6,963.5 178.5,963.5 193,933.4 199.3,918.4 203.8,903.4 206.2,888.4 207,869.6 206,843.3 204.1,820.7 199.1,775.7 197.9,760.6 197.8,745.6 199.4,730.6 201.2,723.1 204.1,715.5 206.6,710.7 210.6,705.1 214.7,701 218.7,697.9 222.8,695.5Z"/>
<path fill="#ff2d00" d="M261.5,715.5 271.2,714.3 279.3,714 299.5,715 311.6,716.4 323.7,718.5 343.9,723.6 360.1,729.7 376.2,738.1 392.4,749 408.6,762.8 416.6,770.9 424.7,779.8 432.8,789.9 440.9,801 453,819.4 497.4,890.8 509.5,913.3 517.6,931.9 523.5,948.5 525.4,956 526.5,963.5 193.2,963.5 199.3,952.2 212.7,929.7 216.5,922.2 221,910.9 224.7,895.9 226.1,884.6 227.1,865.8 227.9,764.4 228.9,753.1 230.8,743.1 232.5,738.1 234.9,733.1 238.9,727.4 243,723.5 251,718.7Z"/>
<path fill="#ff2500" d="M316,734.3 327.8,733.6 339.9,734.6 352,737.1 364.1,741.3 376.2,747.6 388.4,755.7 403,768.1 412.6,778.2 422.9,790.7 436.1,809.5 493.4,900 501.5,914.7 513.6,941.7 517.4,952.2 519.6,963.5 208.4,963.5 214.7,954 224.5,941 230.8,931 237.5,918.4 241.6,907.1 244.5,895.9 246.4,884.6 251.2,835.8 255.1,809.5 260.4,786.9 264.3,775.7 267.5,768.1 271.6,760.6 275.3,755.4 280.9,749.4 285.6,745.6 291.5,741.8 299.5,738.3 307.6,735.9Z"/>
<path fill="#ff1e00" d="M338.8,749.4 348,749.5 356,751 364.1,753.6 372.2,757.4 380.3,762.4 388.4,768.8 396.4,776.5 405.4,786.9 413.8,798.2 442.5,843.3 473.2,888.5 485.3,907.2 493.4,921.1 507.4,948.5 510.4,956 511.8,963.5 225.9,963.5 238.9,945.8 252.7,922.2 262,903.4 268.4,888.4 271.8,877.1 274.1,865.8 276.9,832 279.7,813.2 283.8,798.2 286.7,790.7 290.4,783.2 295.1,775.7 299.5,769.9 304.8,764.4 311.6,758.8 315.7,756.2 323.7,752.5 331.8,750.2Z"/>
<path fill="#ff1300" d="M332.7,771.9 339.9,769.6 343.9,768.8 352,768.6 356,769.1 364.1,771.6 368.2,773.6 376.2,779 380.8,783.2 392.4,796.9 396.1,802 403.8,817 411,828.3 416.6,838.7 429.7,858.3 482.2,933.4 497.4,952.3 501.4,959.7 502.1,963.5 245.6,963.5 253.4,952.2 260.6,937.2 268.9,925.9 287.4,895.9 295.5,876.1 297.3,869.6 299.4,854.6 302.7,817 305,805.7 307.6,797.5 311.6,790.2 315.7,784.9 319.7,780.6 325.8,775.7Z"/>
<path fill="#f10800" d="M352.4,798.2 356,797.1 360.1,796.9 364.1,797.7 368.2,799.4 372.2,801.7 377.6,805.7 381.6,809.5 384.3,813.2 393.5,832 408.2,880.8 414.4,895.9 420.7,908.2 429,922.2 443.2,941 448.9,947.8 456.5,956 460.7,959.7 469.4,963.5 267.8,963.5 274.8,948.5 283.3,937.5 288.7,925.9 299.5,907.1 303.9,895.9 309.4,884.6 337.9,813.2 340.1,809.5 343.9,804.7 348,800.8Z"/>
<path fill="#e80000" d="M324.1,925.9 331.8,924.2 339.9,924.1 360.1,927.9 368.2,930.5 380.3,936 400.5,946.8 416.6,957.5 422.9,963.5 279.8,963.5 281.3,959.7 283.3,956.6 290.6,948.5 299.5,936.1 303.5,932.9 311.6,928.8Z"/>
<path d="M651,556 661,556 661,568Z" fill="#fff"/>
<path d="M601.5,554 664,635.5" fill="none" stroke="#000000" stroke-width="2.35"/>
<path d="M542.5,554 567.5,589.4" fill="none" stroke="#202020" stroke-width="2.35"/>
<path d="M640.4,676 652.6,693.7 664,712" fill="none" stroke="#202020" stroke-width="2.35"/>
<path d="M493,554 512.5,578.9 547.8,624.9" fill="none" stroke="#404040" stroke-width="2.35"/>
<path d="M622.4,714 630.4,727.3 635.5,736.2 645.2,754.5 652,768.4 656.2,777.9 664,797" fill="none" stroke="#404040" stroke-width="2.35"/>
<path d="M453.7,554 490.7,604.1 509.6,628.8" fill="none" stroke="#606060" stroke-width="2.35"/>
<path d="M584.7,717.1 590.8,725.4 596.6,733.8 602.2,742.4 607.4,751.1 617.2,769.1 626.1,787.5 634.3,806.2 643.7,830.1 652.5,854.2 664.1,887.9" fill="none" stroke="#606060" stroke-width="2.35"/>
<path d="M411.4,553.8 422.6,570.8 434.3,587.3 446.4,603.4 458.8,619.3 474.8,638.7 491.2,657.9 541.3,714.5 557.8,733.6 567.4,745.3 576.8,757.2 585.7,769.4 591.4,777.7 602.2,794.8 609.6,807.9 616.4,821.4 622.5,835.2 627.8,849.4 632.3,863.9 636,878.7 637.9,888.8" fill="none" stroke="#808080" stroke-width="2.35"/>
<path d="M366.5,554 377.1,565.5 398.7,588 409.1,599.6 418.8,611.9 424.8,620.4 427.6,624.9" fill="none" stroke="#9f9f9f" stroke-width="2.35"/>
<path d="M505,711.3 517.9,726.3 530.4,741.8 542.5,757.7 554.1,774.1 565.2,790.9 575.6,808.2 585.2,825.8 591.9,839.3 600.1,857.6 605.7,871.5 610.6,885.7 615,900 617.5,909.6 619.8,919.4 622.6,934.1 624.7,949 626.1,964" fill="none" stroke="#9f9f9f" stroke-width="2.35"/>
<path d="M99,597.5 110.9,588.3 119,582.4 127.4,576.8 135.9,571.5 144.6,566.6 153.6,562 162.7,557.8 172,554.1" fill="none" stroke="#bfbfbf" stroke-width="2.35"/>
<path d="M292,553 301.3,557.5 314.8,565 323.6,570.5 336.3,579.3 344.4,585.7 356,595.9 367,606.8 373.9,614.5" fill="none" stroke="#bfbfbf" stroke-width="2.35"/>
<path d="M451.3,697.8 468.8,715.5 482.6,730.1 499.2,749 512.1,764.6 524.4,780.7 536.1,797.1 547.1,814 557.4,831.3 566.8,849 575.2,867.2 582.7,885.8 587.6,899.9 590.5,909.5 593.1,919.2 596.4,933.9 599,948.9 600.8,964.1" fill="none" stroke="#bfbfbf" stroke-width="2.35"/>
<path d="M101.8,682.9 103.9,678.4 108.7,669.6 114.1,661.1 120.2,653 126.8,645.3 134,638.2 141.8,631.6 150,625.5 154.3,622.8 163.1,617.6 172.3,613.2 177,611.2 186.5,607.7 196.2,604.9 206,602.8 215.9,601.5 225.7,600.9 235.4,601.1 240.2,601.5 249.8,602.9 259.2,604.9 268.5,607.6 277.7,610.9 291.3,616.9 300.2,621.5 313.3,629.1 322,634.7 334.7,643.5 347.2,652.9 363.4,665.8 398.4,695 416.9,710.9 427.8,720.7 438.4,730.9 448.9,741.6 459.2,753" fill="none" stroke="#dfdfdf" stroke-width="2.35"/>
<path d="M524.9,846.5 539.5,873.1 546.6,886.6 553.3,900.3 559.1,914.4 563.9,928.7 566.3,938.5 568.1,948.6 568.6,953.7 569.2,964.1" fill="none" stroke="#dfdfdf" stroke-width="2.35"/>
<path d="M290,761.3 293.8,757.1 297.8,753.4 302,750.2 306.3,747.5 310.8,745.2 315.3,743.4 320,742 324.7,741.1 329.5,740.6 334.4,740.4 339.3,740.6 344.1,741.2 349,742.1 353.8,743.3 363.3,746.5 367.9,748.6 376.8,753.3 385.2,759 393.1,765.3 400.4,772.2 407.2,779.6 413.5,787.3 419.5,795.2 431,811.6 444.9,832.3 458.5,853.4 471.8,874.7 495.2,913.2 500.2,921.9 504.9,930.7 509.1,939.7 512.5,949.1 515,959 515.9,964.1" fill="none" stroke="#ffffff" stroke-width="2.35"/>
<path d="M259.4,871.5 257.6,881.7 255.1,891.8 252,901.6 250.2,906.4 246.2,915.9 241.6,925.1 234,938.5 225.5,951.5 216.3,963.9" fill="none" stroke="#ffffff" stroke-width="2.35"/>
<text transform="translate(614,642) rotate(56)" text-anchor="middle" dominant-baseline="central" fill="#202020" font-size="25.2">58 %</text>
<text transform="translate(594.4,677.2) rotate(52)" text-anchor="middle" dominant-baseline="central" fill="#404040" font-size="25.2">60 %</text>
<text transform="translate(558,682.6) rotate(49)" text-anchor="middle" dominant-baseline="central" fill="#606060" font-size="25.2">62 %</text>
<text transform="translate(653.6,958) rotate(83.5)" text-anchor="middle" dominant-baseline="central" fill="#808080" font-size="25.2">64 %</text>
<text transform="translate(475.3,678.2) rotate(50)" text-anchor="middle" dominant-baseline="central" fill="#9f9f9f" font-size="25.2">66 %</text>
<text transform="translate(422.3,665.8) rotate(50)" text-anchor="middle" dominant-baseline="central" fill="#bfbfbf" font-size="25.2">68 %</text>
<text transform="translate(501.8,807.7) rotate(58.5)" text-anchor="middle" dominant-baseline="central" fill="#dfdfdf" font-size="25.2">70 %</text>
<text transform="translate(270.3,805) rotate(-71)" text-anchor="middle" dominant-baseline="central" fill="#ffffff" font-size="23.6">72 %</text>
</g>
<rect x="103.6" y="556" width="557.4" height="405.5" fill="none" stroke="#000" stroke-width="1.2"/>
<path d="M159.3,961.5 v5.6" stroke="#000" stroke-width="1.2"/>
<text x="159.3" y="991.6" text-anchor="middle" font-size="24.8">−4</text>
<path d="M270.8,961.5 v5.6" stroke="#000" stroke-width="1.2"/>
<text x="270.8" y="991.6" text-anchor="middle" font-size="24.8">−2</text>
<path d="M382.3,961.5 v5.6" stroke="#000" stroke-width="1.2"/>
<text x="382.3" y="991.6" text-anchor="middle" font-size="24.8">0</text>
<path d="M493.8,961.5 v5.6" stroke="#000" stroke-width="1.2"/>
<text x="493.8" y="991.6" text-anchor="middle" font-size="24.8">2</text>
<path d="M605.3,961.5 v5.6" stroke="#000" stroke-width="1.2"/>
<text x="605.3" y="991.6" text-anchor="middle" font-size="24.8">4</text>
<path d="M103.6,556 h-5.6" stroke="#000" stroke-width="1.2"/>
<text x="91.9" y="564.8" text-anchor="end" font-size="24.8">0</text>
<path d="M103.6,637.1 h-5.6" stroke="#000" stroke-width="1.2"/>
<text x="91.9" y="645.9" text-anchor="end" font-size="24.8">−2</text>
<path d="M103.6,718.2 h-5.6" stroke="#000" stroke-width="1.2"/>
<text x="91.9" y="727" text-anchor="end" font-size="24.8">−4</text>
<path d="M103.6,799.3 h-5.6" stroke="#000" stroke-width="1.2"/>
<text x="91.9" y="808.1" text-anchor="end" font-size="24.8">−6</text>
<path d="M103.6,880.4 h-5.6" stroke="#000" stroke-width="1.2"/>
<text x="91.9" y="889.2" text-anchor="end" font-size="24.8">−8</text>
<path d="M103.6,961.5 h-5.6" stroke="#000" stroke-width="1.2"/>
<text x="91.9" y="970.3" text-anchor="end" font-size="24.8">−10</text>
<path d="M229.3,949.8 235.1,955.6 240.9,949.8 246.8,955.6 240.9,961.4 246.8,967.2 240.9,973 235.1,967.2 229.3,973 223.4,967.2 229.3,961.4 223.4,955.6Z" fill="none" stroke="#000" stroke-width="1.4" stroke-linejoin="miter"/>
<path d="M337.3,949.8 345.1,949.8 345.1,957.5 352.8,957.5 352.8,965.3 345.1,965.3 345.1,973 337.3,973 337.3,965.3 329.6,965.3 329.6,957.5 337.3,957.5Z" fill="none" stroke="#000" stroke-width="1.4" stroke-linejoin="miter"/>
<path d="M309.9,871.6 307.3,879.6 299,879.6 305.7,884.5 303.2,892.4 309.9,887.5 316.6,892.4 314.1,884.5 320.8,879.6 312.5,879.6Z" fill="none" stroke="#000" stroke-width="1.4" stroke-linejoin="bevel"/>
<text x="382.3" y="1022.3" text-anchor="middle" font-size="25.2">Δ<tspan font-style="italic">θ</tspan><tspan font-size="17.6" dy="3.7">1</tspan></text><text transform="translate(23.8,759.5) rotate(-90)" text-anchor="middle" font-size="25.2">Δ<tspan font-style="italic">θ</tspan><tspan font-size="17.6" dy="3.7">2</tspan></text>
</svg>
</body></html>
